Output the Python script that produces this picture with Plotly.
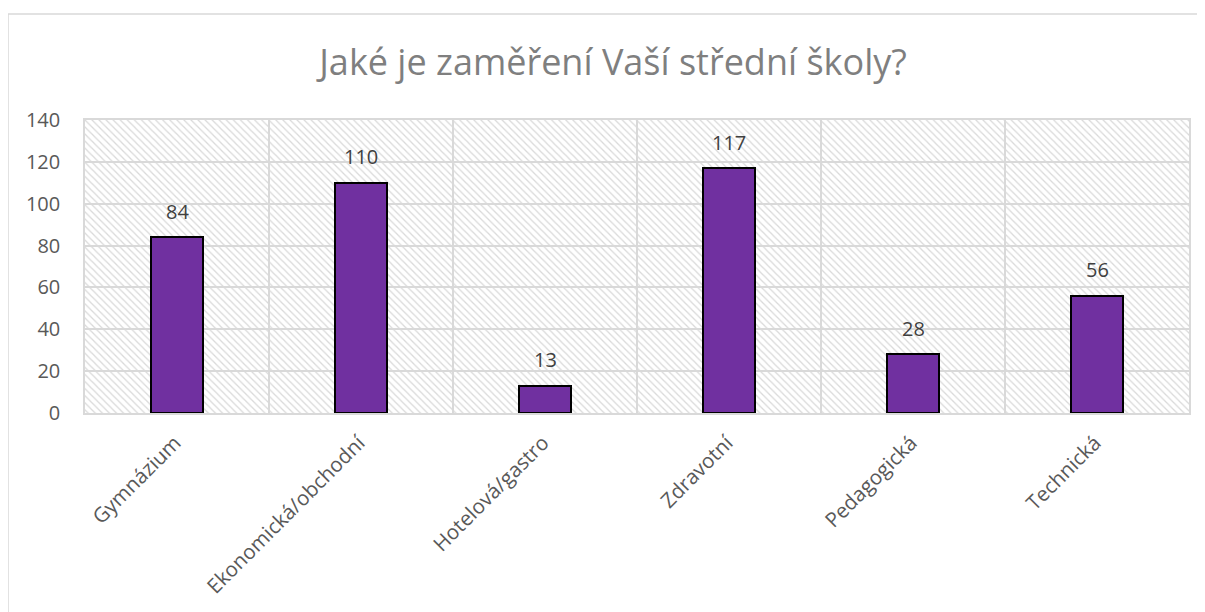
import plotly.graph_objects as go

categories = ["Gymnázium", "Ekonomická/obchodní", "Hotelová/gastro", "Zdravotní", "Pedagogická", "Technická"]
values = [84, 110, 13, 117, 28, 56]
y_ticks = [0, 20, 40, 60, 80, 100, 120, 140]
title_text = "Jaké je zaměření Vaší střední školy?"

W, H = 1205, 612
OFF = 8  # page body margin
# plot area in screen pixels
SL, ST, SR, SB = 85, 120, 1189, 413
L, T = SL - OFF, ST - OFF
R = W - (SR - OFF)
B = H - (SB - OFF)
FONT = "Open Sans"

fig = go.Figure()

# hatched plot-area background (main subplot, below the data)
fig.add_trace(go.Bar(
    x=[0.5], y=[1], width=[1], xaxis="x", yaxis="y",
    marker=dict(color="#d9d9d9", line=dict(width=0),
                pattern=dict(shape="\\", size=5, solidity=0.25, fillmode="replace")),
    hoverinfo="skip", showlegend=False,
))

# data bars (overlay subplot)
fig.add_trace(go.Bar(
    x=categories, y=values, xaxis="x2", yaxis="y2",
    width=0.28,
    marker=dict(color="#7030A0", line=dict(color="#000000", width=2)),
    showlegend=False,
))

annotations = []
for c, v in zip(categories, values):
    annotations.append(dict(
        x=c, y=v, xref="x2", yref="y2", text=str(v), showarrow=False,
        yanchor="middle", yshift=26,
        font=dict(family=FONT, size=20, color="#404040"),
    ))

pw = W - L - R
ph = H - T - B
def px_to_paper_x(px):
    return (px - OFF - L) / pw
def px_to_paper_y(py):
    return (H - B - (py - OFF)) / ph

shapes = [dict(
    type="rect", xref="paper", yref="paper",
    x0=px_to_paper_x(8), x1=px_to_paper_x(1240),
    y0=px_to_paper_y(640), y1=px_to_paper_y(14),
    line=dict(color="#d9d9d9", width=1.5), fillcolor="rgba(0,0,0,0)", layer="below",
)]

grid_color = "#d9d9d9"
fig.update_layout(
    width=W, height=H,
    margin=dict(l=L, r=R, t=T, b=B),
    paper_bgcolor="white", plot_bgcolor="white",
    barmode="overlay",
    title=dict(text=title_text, xref="container", x=(613 - OFF) / W, xanchor="center",
               yref="container", y=1 - (62 - OFF) / H, yanchor="middle",
               font=dict(family=FONT, size=36, color="#7f7f7f")),
    xaxis=dict(range=[0, 1], visible=False, fixedrange=True),
    yaxis=dict(range=[0, 1], visible=False, fixedrange=True),
    xaxis2=dict(overlaying="x", side="bottom", type="category",
                range=[-0.5, len(categories) - 0.5],
                tickson="boundaries", showgrid=True, gridcolor=grid_color, gridwidth=1.5,
                ticks="", tickangle=-45, ticklabelshift=-2, ticklabelstandoff=8,
                showline=True, linecolor=grid_color, linewidth=1.5, mirror=True,
                tickfont=dict(family=FONT, size=20.5, color="#595959")),
    yaxis2=dict(overlaying="y", side="left", range=[0, 140], tickvals=y_ticks,
                showgrid=True, gridcolor=grid_color, gridwidth=1.5,
                zeroline=False, ticks="", ticklabelstandoff=19,
                showline=True, linecolor=grid_color, linewidth=1.5, mirror=True,
                tickfont=dict(family=FONT, size=20, color="#595959")),
    annotations=annotations,
    shapes=shapes,
    bargap=0,
)

fig.write_html("out.html")
